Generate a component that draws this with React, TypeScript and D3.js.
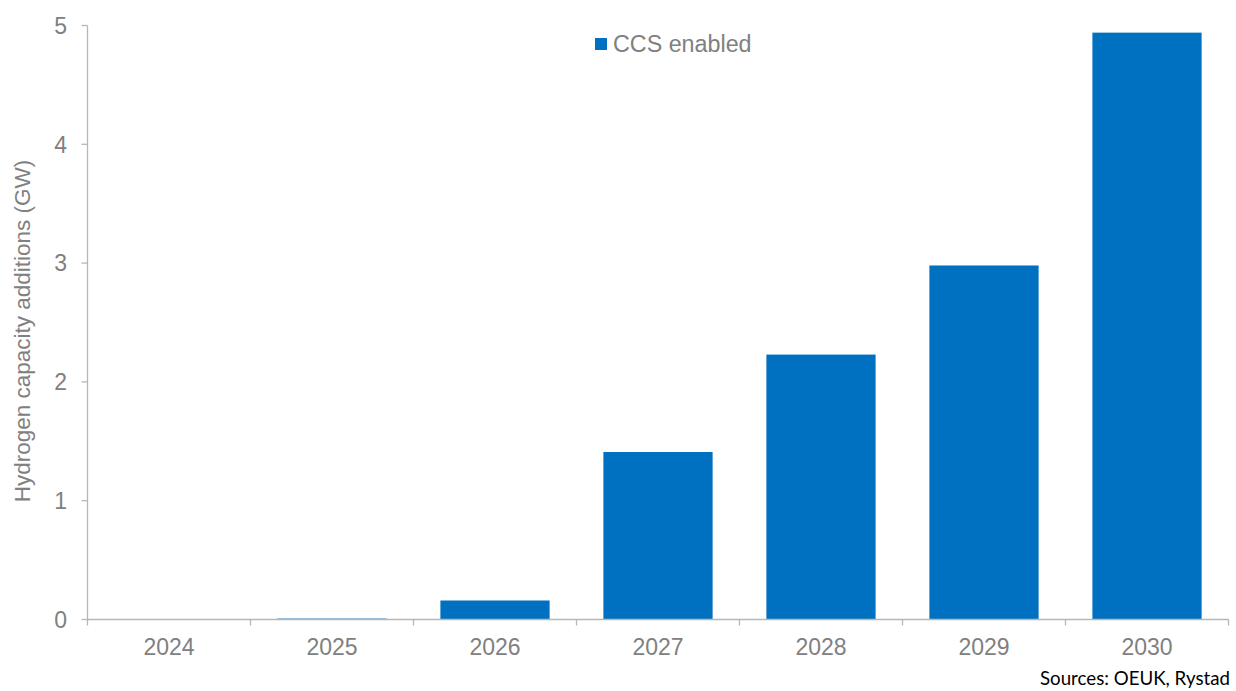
import React from "react";
import * as d3 from "d3";

const categories = ["2024", "2025", "2026", "2027", "2028", "2029", "2030"];
const ccsValues = [0, 0.008, 0.16, 1.41, 2.23, 2.98, 4.94];
const yTicks = [0, 1, 2, 3, 4, 5];
const seriesName = "CCS enabled";
const yTitle = "Hydrogen capacity additions (GW)";
const sourceText = "Sources: OEUK, Rystad";

const W = 1236;
const H = 691;
const left = 87.5;
const right = 1228.5;
const top = 25.5;
const bottom = 619.5;
const axisColor = "#b7b7b7";
const textColor = "#808080";
const barColor = "#0070C0";

export default function App() {
  const x = d3.scaleBand<string>().domain(categories).range([left, right]).paddingInner(0.33).paddingOuter(0.165);
  const xb = d3.scaleBand<string>().domain(categories).range([left, right]).padding(0);
  const y = d3.scaleLinear().domain([0, 5]).range([bottom, top]);
  const font = "'Liberation Sans', Arial, sans-serif";
  return (
    <svg width={W} height={H} style={{ position: "absolute", left: 0, top: 0, background: "#fff" }}>
      {categories.map((c, i) => (
        <rect key={c} x={x(c)} y={y(ccsValues[i])} width={x.bandwidth()} height={Math.max(0, y(0) - y(ccsValues[i]))} fill={barColor} />
      ))}
      {/* y axis */}
      <line x1={left} x2={left} y1={top} y2={bottom} stroke={axisColor} strokeWidth={1.3} />
      {yTicks.map((t) => (
        <g key={t}>
          <line x1={left - 6} x2={left} y1={y(t)} y2={y(t)} stroke={axisColor} strokeWidth={1.3} />
          <text x={67} y={y(t)} dy="0.36em" textAnchor="end" fontFamily={font} fontSize={23} fill={textColor}>{t}</text>
        </g>
      ))}
      {/* x axis */}
      <line x1={left} x2={right} y1={bottom} y2={bottom} stroke={axisColor} strokeWidth={1.3} />
      {categories.map((c) => (
        <line key={"t" + c} x1={xb(c)} x2={xb(c)} y1={bottom} y2={bottom + 6} stroke={axisColor} strokeWidth={1.3} />
      ))}
      <line x1={right} x2={right} y1={bottom} y2={bottom + 6} stroke={axisColor} strokeWidth={1.3} />
      {categories.map((c) => (
        <text key={"l" + c} x={(xb(c) as number) + xb.bandwidth() / 2} y={655} textAnchor="middle" fontFamily={font} fontSize={23} fill={textColor}>{c}</text>
      ))}
      <text transform={`translate(30,331) rotate(-90)`} textAnchor="middle" fontFamily={font} fontSize={22.5} fill={textColor}>{yTitle}</text>
      {/* legend */}
      <rect x={595} y={38} width={12} height={12} fill={barColor} />
      <text x={613} y={52} fontFamily={font} fontSize={23.3} fill={textColor}>{seriesName}</text>
      <text x={1230} y={685} textAnchor="end" fontFamily="Lato, 'Open Sans', sans-serif" fontSize={18.7} fill="#000">{sourceText}</text>
    </svg>
  );
}
